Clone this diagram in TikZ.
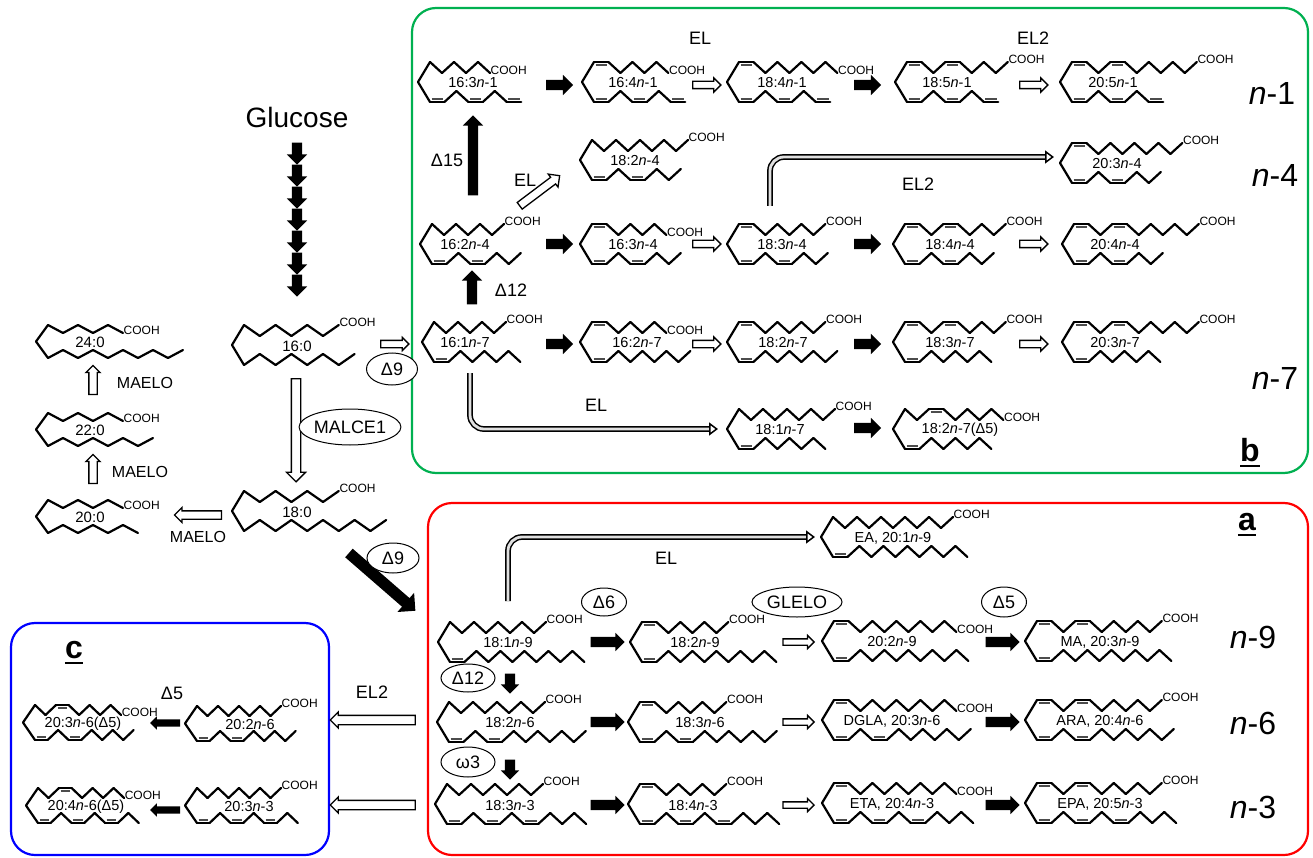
\documentclass[tikz,border=0pt]{standalone}
\usepackage{fontspec}
\setmainfont{Liberation Sans}
\usetikzlibrary{shapes.arrows,shapes.geometric,arrows.meta}

\definecolor{boxgreen}{RGB}{0,176,80}
\newcommand{\fs}[1]{\fontsize{#1}{#1}\selectfont}

\def\faH{40}\def\faA{11}
% one chain of a fatty acid: x, y, side, bond length, tokens (z = single, F = cis double)
\newcommand{\fachain}[5]{%
  \pgfmathsetmacro\fcx{#1}\pgfmathsetmacro\fcy{#2}%
  \xdef\fcx{\fcx}\xdef\fcy{\fcy}\xdef\flv{0}%
  \foreach \ftok in {#5}{%
    \if z\ftok
      \pgfmathsetmacro\fnx{\fcx+#4}%
      \pgfmathsetmacro\fnl{1-\flv}%
      \pgfmathsetmacro\fny{#2+(#3)*\fnl*\faA}%
      \draw[bond] (\fcx,\fcy) -- (\fnx,\fny);
      \xdef\fcy{\fny}\xdef\flv{\fnl}%
    \else
      \pgfmathsetmacro\fnx{\fcx+1.2*#4}%
      \pgfmathsetmacro\fdy{(#3)*(1-2*\flv)*3.4}%
      \draw[bond] (\fcx,\fcy) -- (\fnx,\fcy);
      \draw[bond2] (\fcx+1.5,\fcy+\fdy) -- (\fnx-1.5,\fcy+\fdy);
    \fi
    \xdef\fcx{\fnx}%
  }}
% whole molecule: [bond length] name, x, y, upper chain, lower chain, label, label x
\newcommand{\fa}[8][12]{%
  \coordinate (#2) at (#3,#4+\faH/2);
  \draw[bond] (#3+12,#4) -- (#2) -- (#3+12,#4+\faH);
  \fachain{#3+12}{#4}{1}{#1}{#5}
  \node[cooh] (#2-c) at (\fcx,\fcy) {COOH};
  \fachain{#3+12}{#4+\faH}{-1}{#1}{#6}
  \node[lbl] (#2-l) at (#8,#4+\faH/2+1) {#7};
}

\begin{document}
\begin{tikzpicture}[x=1pt,y=-1pt,
  bond/.style={line width=2.2pt,line join=round,line cap=round},
  bond2/.style={line width=1.9pt,black!70},
  cooh/.style={anchor=west,inner sep=0.5pt,yshift=3pt,font=\fs{12}},
  lbl/.style={inner sep=0pt,font=\fs{14.5}},
  txt/.style={inner sep=0pt,font=\fs{18}},
  big/.style={inner sep=0pt,font=\fs{32}},
  ell/.style={ellipse,draw,fill=white,line width=1pt,inner sep=0pt,font=\fs{18}},
  barr/.style={single arrow,fill=black,inner xsep=0pt,inner ysep=5pt,single arrow head extend=5pt,minimum height=27pt},
  warr/.style={single arrow,draw,line width=1.3pt,fill=white,inner xsep=0pt,inner ysep=3pt,single arrow head extend=3.5pt,minimum height=28pt},
  dbl/.style={double=black!12,double distance=2.8pt,line width=1.5pt,rounded corners=14pt,-{Triangle[open,length=9pt,width=13pt]}},
  boxed/.style={line width=2.2pt,rounded corners=24pt}]
\useasboundingbox (0,0) rectangle (1313,858);
\fill[white] (0,0) rectangle (1313,858);

\draw[boxed,boxgreen] (412,8) rectangle (1308,473);
\draw[boxed,red] (428,503) rectangle (1308,855);
\draw[boxed,blue] (11,623) rectangle (329,855);

\node[font=\fs{28},inner sep=0pt] (glc) at (297,117) {Glucose};
\foreach \i in {0,...,6}
\node[barr,rotate=-90,minimum height=22pt] (g\i) at (297,151+22*\i) {};

% b
\fa{m163n1}{418}{62}{z,z,z,z,z}{F,z,z,F,z,z,F}{16:3\textit{n}-1}{473}
\fa{m164n1}{582}{62}{F,z,z,z,z,z}{F,z,z,F,z,z,F}{16:4\textit{n}-1}{633}
\fa{m184n1}{727}{62}{F,z,z,z,z,z,z,z}{F,z,z,F,z,z,F}{18:4\textit{n}-1}{782}
\fa{m185n1}{895}{62}{F,z,z,F,z,z,z,z}{F,z,z,F,z,z,F}{18:5\textit{n}-1}{947}
\fa{m205n1}{1060}{62}{F,z,z,F,z,z,z,z,z,z}{F,z,z,F,z,z,F}{20:5\textit{n}-1}{1113}
\fa{m182n4}{580}{140}{z,z,z,z,z,z,z,z}{F,z,z,F,z,z,z}{18:2\textit{n}-4}{635}
\fa{m203n4}{1060}{143}{F,z,z,z,z,z,z,z,z}{F,z,z,F,z,z,z}{20:3\textit{n}-4}{1117}
\fa{m162n4}{420}{224}{z,z,z,z,z,z}{F,z,z,F,z,z,z}{16:2\textit{n}-4}{465}
\fa{m163n4}{580}{224}{F,z,z,z,z,z}{F,z,z,F,z,z,z}{16:3\textit{n}-4}{633}
\fa{m183n4}{727}{224}{F,z,z,z,z,z,z}{F,z,z,F,z,z,z}{18:3\textit{n}-4}{782}
\fa{m184n4}{893}{224}{F,z,z,F,z,z,z,z}{F,z,z,F,z,z,z}{18:4\textit{n}-4}{950}
\fa{m204n4}{1062}{224}{F,z,z,F,z,z,z,z,z,z}{F,z,z,F,z,z,z}{20:4\textit{n}-4}{1115}
\fa{m161n7}{422}{322}{z,z,z,z,z,z}{F,z,z,z,z,z,z}{16:1\textit{n}-7}{465}
\fa{m162n7}{580}{322}{F,z,z,z,z,z}{F,z,z,z,z,z,z,z}{16:2\textit{n}-7}{637}
\fa{m182n7}{727}{322}{F,z,z,z,z,z,z}{F,z,z,z,z,z,z,z}{18:2\textit{n}-7}{783}
\fa{m183n7}{893}{322}{F,z,z,F,z,z,z,z}{F,z,z,z,z,z,z}{18:3\textit{n}-7}{950}
\fa{m203n7}{1062}{322}{F,z,z,F,z,z,z,z,z,z}{F,z,z,z,z,z,z}{20:3\textit{n}-7}{1115}
\fa{m181n7}{727}{409}{z,z,z,z,z,z,z,z}{F,z,z,z,z,z,z}{18:1\textit{n}-7}{780}
\fa{m182n7d}{893}{409}{z,z,F,z,z,z,z,z}{F,z,z,z,z,z,z}{18:2\textit{n}-7(Δ5)}{960}

\node[txt] (el1) at (700,38) {EL};
\node[txt] (el2) at (1033,38) {EL2};
\foreach \y in {85,244,344}{
\node[barr] (k\y) at (557,\y) {};
\node[warr] (w\y) at (705,\y) {};
\node[barr] (kk\y) at (865,\y) {};
\node[warr] (ww\y) at (1032,\y) {};
}
\node[barr] (k7) at (865,428) {};
\node[barr,rotate=90,minimum height=80pt] (d15) at (473,158) {};
\node[txt] (d15t) at (447,160) {Δ15};
\node[warr,rotate=37,minimum height=50pt,inner ysep=3.5pt,single arrow head extend=4pt] (elx) at (538,192) {};
\node[txt] (elxt) at (525,180) {EL};
\node[barr,rotate=90,minimum height=34pt] (d12b) at (472,290) {};
\node[txt] (d12bt) at (511,290) {Δ12};
\node[txt] (el2b) at (918,184) {EL2};
\node[txt] (el7) at (596,405) {EL};
\coordinate (s1) at (470,373);
\coordinate (s2) at (770,206);
\draw[dbl] (s1) |- ([xshift=-9pt]m181n7);
\draw[dbl] (s2) |- ([xshift=-6pt,yshift=6pt]m203n4);
\node[big] (n1) at (1272,93) {\textit{n}-1};
\node[big] (n4) at (1275,175) {\textit{n}-4};
\node[big] (n7) at (1275,378) {\textit{n}-7};
\node[big,font=\fs{32}\bfseries] (lb) at (1250,450) {b};
\draw[line width=2.5pt] ([yshift=-4pt]lb.south west) -- ([yshift=-4pt]lb.south east);

% saturated
\fa[15.8]{m160}{232}{325}{z,z,z,z,z,z}{z,z,z,z,z,z,z}{\fs{15}16:0}{297}
\fa[15.8]{m180}{232}{491}{z,z,z,z,z,z}{z,z,z,z,z,z,z,z,z}{\fs{15}18:0}{297}
\def\faH{33}\def\faA{8}
\fa[15]{m240}{36}{325}{z,z,z,z,z}{z,z,z,z,z,z,z,z,z}{\fs{15}24:0}{90}
\fa[15]{m220}{36}{413}{z,z,z,z,z}{z,z,z,z,z,z,z}{\fs{15}22:0}{90}
\fa[15]{m200}{36}{500}{z,z,z,z,z}{z,z,z,z,z,z}{\fs{15}20:0}{90}
\node[warr,single arrow head extend=3pt] (d9w) at (393,344) {};
\node[ell,minimum width=51pt,minimum height=32pt] (d9e) at (392,369) {Δ9};
\node[warr,rotate=-90,minimum height=103pt,inner ysep=4pt,single arrow head extend=5pt] (mal) at (296,428) {};
\node[ell,minimum width=96pt,minimum height=36pt] (male) at (350,427) {MALCE1};
\node[warr,rotate=90,minimum height=29pt,inner ysep=3.5pt,single arrow head extend=3pt] (ma1) at (93,382) {};
\node[warr,rotate=90,minimum height=29pt,inner ysep=3.5pt,single arrow head extend=3pt] (ma2) at (93,471) {};
\node[warr,rotate=180,minimum height=47pt,inner ysep=3.5pt,single arrow head extend=3.5pt] (ma3) at (200,515) {};
\node[txt,font=\fs{16}] (ma1t) at (145,383) {MAELO};
\node[txt,font=\fs{16}] (ma2t) at (140,472) {MAELO};
\node[txt,font=\fs{16}] (ma3t) at (198,537) {MAELO};
\node[barr,rotate=-41,minimum height=88pt,inner ysep=5.5pt,single arrow head extend=7pt] (d9b) at (380,580) {};
\node[ell,minimum width=52pt,minimum height=30pt] (d9be) at (393,558) {Δ9};

% a
\def\faH{40}\def\faA{11}
\fa{mea}{821}{517}{z,z,z,z,z,z,z,z,z,z}{F,z,z,z,z,z,z,z,z,z,z}{EA, 20:1\textit{n}-9}{893}
\fa{m181n9}{438}{622}{z,z,z,z,z,z,z,z}{F,z,z,z,z,z,z,z,z,z,z}{18:1\textit{n}-9}{508}
\fa{m182n9}{630}{622}{F,z,z,z,z,z,z}{F,z,z,z,z,z,z,z,z,z,z}{18:2\textit{n}-9}{695}
\fa{m202n9}{822}{621}{F,z,z,z,z,z,z,z,z,z}{F,z,z,z,z,z,z,z,z,z,z}{20:2\textit{n}-9}{892}
\fa{mma}{1025}{621}{F,z,z,F,z,z,z,z,z,z}{F,z,z,z,z,z,z,z,z,z,z}{MA, 20:3\textit{n}-9}{1100}
\fa{m182n6}{437}{702}{z,z,z,z,z,z,z,z}{F,z,z,F,z,z,z,z,z,z,z}{18:2\textit{n}-6}{510}
\fa{m183n6}{628}{702}{F,z,z,z,z,z,z}{F,z,z,F,z,z,z,z,z,z,z}{18:3\textit{n}-6}{700}
\fa{mdgla}{822}{700}{F,z,z,z,z,z,z,z,z,z}{F,z,z,F,z,z,z,z,z,z,z}{DGLA, 20:3\textit{n}-6}{892}
\fa{mara}{1025}{700}{F,z,z,F,z,z,z,z,z,z}{F,z,z,F,z,z,z,z,z,z,z}{ARA, 20:4\textit{n}-6}{1100}
\fa{m183n3}{435}{784}{z,z,z,z,z,z,z,z}{F,z,z,F,z,z,F,z,z,z,z}{18:3\textit{n}-3}{510}
\fa{m184n3}{628}{784}{F,z,z,z,z,z,z}{F,z,z,F,z,z,F,z,z,z,z}{18:4\textit{n}-3}{693}
\fa{meta}{822}{783}{F,z,z,z,z,z,z,z,z,z}{F,z,z,F,z,z,F,z,z,z,z}{ETA, 20:4\textit{n}-3}{892}
\fa{mepa}{1025}{783}{F,z,z,F,z,z,z,z,z,z}{F,z,z,F,z,z,F,z,z,z,z}{EPA, 20:5\textit{n}-3}{1100}
\coordinate (s3) at (508,601);
\draw[dbl] (s3) |- ([xshift=-6pt]mea);
\node[txt] (ela) at (666,558) {EL};
\foreach \y in {642,722,805}{
\node[barr,minimum height=34pt,single arrow head extend=4pt] (p\y) at (605,\y) {};
\node[warr,minimum height=31pt,inner ysep=2.5pt,single arrow head extend=3.5pt] (q\y) at (797,\y) {};
\node[barr,minimum height=34pt,single arrow head extend=4pt] (r\y) at (1000,\y) {};
}
\node[barr,rotate=-90,minimum height=20pt,single arrow head extend=4pt] (d12a) at (510,681) {};
\node[barr,rotate=-90,minimum height=20pt,single arrow head extend=4pt] (w3a) at (510,767) {};
\node[ell,minimum width=45pt,minimum height=28pt] (d6e) at (604,602) {Δ6};
\node[ell,minimum width=90pt,minimum height=30pt] (glelo) at (797,602) {GLELO};
\node[ell,minimum width=45pt,minimum height=30pt] (d5e) at (1004,602) {Δ5};
\node[ell,minimum width=54pt,minimum height=28pt] (d12e) at (468,678) {Δ12};
\node[ell,minimum width=54pt,minimum height=30pt] (w3e) at (468,762) {ω3};
\node[big] (n9) at (1253,637) {\textit{n}-9};
\node[big] (n6) at (1253,723) {\textit{n}-6};
\node[big] (n3) at (1253,807) {\textit{n}-3};
\node[big,font=\fs{32}\bfseries] (la) at (1247,522) {a};
\draw[line width=2.5pt] ([yshift=-4pt]la.south west) -- ([yshift=-4pt]la.south east);

% c
\def\faH{35}\def\faA{10}
\fa[10.5]{m202n6}{185}{706}{z,z,z,z,z,z,z,z}{F,z,z,F,z,z,z,z,z}{20:2\textit{n}-6}{250}
\fa[10.5]{m203n6d}{23}{705}{z,z,F,z,z,z,z,z}{F,z,z,F,z,z,z,z,z}{20:3\textit{n}-6(Δ5)}{83}
\fa[10.5]{m203n3}{185}{788}{z,z,z,z,z,z,z,z}{F,z,z,F,z,z,F,z,z}{20:3\textit{n}-3}{249}
\fa[10.5]{m204n6d}{26}{788}{z,z,F,z,z,z,z,z}{F,z,z,F,z,z,F,z,z}{20:4\textit{n}-6(Δ5)}{86}
\node[warr,rotate=180,minimum height=85pt,inner ysep=4pt] (c1) at (375,720) {};
\node[warr,rotate=180,minimum height=85pt,inner ysep=4pt] (c2) at (375,805) {};
\node[barr,rotate=180,minimum height=30pt,inner ysep=3.5pt,single arrow head extend=3pt] (c3) at (167,723) {};
\node[barr,rotate=180,minimum height=30pt,inner ysep=3.5pt,single arrow head extend=3pt] (c4) at (167,810) {};
\node[txt] (c5t) at (172,693) {Δ5};
\node[txt] (el2c) at (372,692) {EL2};
\node[big,font=\fs{32}\bfseries] (lc) at (74,650) {c};
\draw[line width=2.5pt] ([yshift=-4pt]lc.south west) -- ([yshift=-4pt]lc.south east);
\end{tikzpicture}
\end{document}
